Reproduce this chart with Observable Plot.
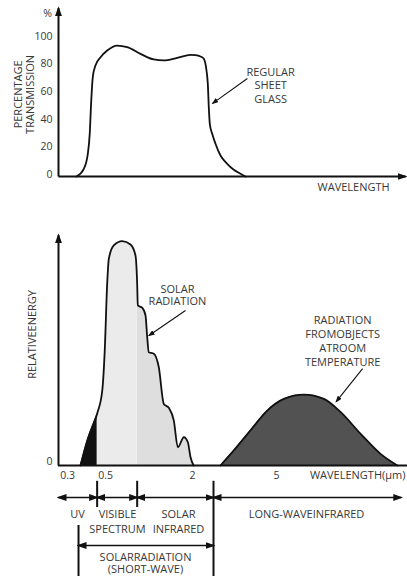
<!DOCTYPE html>
<html><head><meta charset="utf-8">
<script src="https://cdn.jsdelivr.net/npm/d3@7"></script>
<script src="https://cdn.jsdelivr.net/npm/@observablehq/plot@0.6"></script>
<style>
body{margin:0;background:#fff;}
#chart{width:407px;height:576px;overflow:hidden;background:#fff;}
#chart svg{display:block;overflow:visible;}
</style></head><body><div id="chart"></div>
<script>
// ---- Top chart: regular sheet glass transmission ----
const glassWavelength = [0.347, 0.386, 0.407, 0.417, 0.425, 0.433, 0.447, 0.474, 0.529, 0.702, 0.874, 1.103, 1.333, 1.505, 1.736, 1.966, 2.107, 2.286, 2.404, 2.5, 2.547, 2.582, 2.618, 2.704, 2.821, 3.0, 3.239, 3.475, 3.714, 3.893];
const glassTransmission = [0, 5.6, 16.4, 30.9, 55, 72, 80.4, 86.4, 91.3, 94.9, 93.7, 88.9, 84.8, 84.1, 86, 88.2, 88, 87, 85.3, 76.8, 67.1, 50.2, 38.2, 30.9, 23.7, 15.2, 9.2, 4.9, 2, 0];
const transmissionTicks = [0, 20, 40, 60, 80, 100];

// ---- Bottom chart: solar radiation and room-temperature radiation ----
const solarWavelength = [0.368, 0.404, 0.456, 0.483, 0.496, 0.529, 0.557, 0.643, 0.788, 0.931, 1.017, 1.046, 1.057, 1.132, 1.19, 1.219, 1.246, 1.333, 1.419, 1.505, 1.591, 1.678, 1.747, 1.851, 1.92, 1.966, 2.04];
const solarEnergy = [0, 11, 22.7, 32.9, 50.4, 79.7, 90.6, 96.5, 98.4, 96.9, 92.1, 79.7, 70.2, 69.2, 65.8, 56.3, 49.7, 49, 43.1, 27, 25.3, 19.7, 8, 12.4, 10.2, 3.6, 0];
const roomWavelength = [3.0, 3.476, 4.07, 4.67, 5.26, 5.98, 6.69, 7.29, 8.0, 8.71, 9.31];
const roomEnergy = [0, 6.6, 15.4, 24.1, 29.2, 31.1, 29.2, 23.4, 13.9, 5.1, 0];
const wavelengthTicks = [0.3, 0.5, 2, 5];

// ---- Spectral bands (μm) ----
const bandNames = ["UV", "VISIBLE\nSPECTRUM", "SOLAR\nINFRARED", "LONG-WAVEINFRARED"];
const bandStart = [0.25, 0.456, 1.046, 2.75];
const bandEnd = [0.456, 1.046, 2.75, 9.45];
const bandLabelAt = [0.353, 0.707, 1.759, 6.07];
const shortWaveName = ["SOLARRADIATION\n(SHORT-WAVE)"];
const shortWaveStart = [0.358];
const shortWaveEnd = [2.75];
const shortWaveLabelAt = [1.19];

// ---- shared settings ----
const origin = 0.25;
const xEnd = 9.6;
const xScale = {type: "linear", domain: [0.25, 0.3, 0.5, 2, 5, 9.6], range: [58, 67, 105, 192, 276, 405], axis: null};
const font = "'Open Sans', 'DejaVu Sans', sans-serif";
const ink = "#111";
const textInk = "#383838";
const style = {fontFamily: font, fontSize: "11px", color: textInk, background: "transparent", overflow: "visible"};

const glass = glassWavelength.map((x, i) => ({x, y: glassTransmission[i]}));
const solar = solarWavelength.map((x, i) => ({x, y: solarEnergy[i]}));
const room = roomWavelength.map((x, i) => ({x, y: roomEnergy[i]}));
const uvPart = solar.filter(d => d.x <= bandEnd[0]);
const visPart = solar.filter(d => d.x >= bandStart[1] && d.x <= bandEnd[1]);
const irPart = solar.filter(d => d.x >= bandStart[2]);

function addMarkers(svg, id, plan) {
  const s = d3.select(svg);
  const defs = s.insert("defs", ":first-child");
  const mk = (name, w, h) => defs.append("marker")
    .attr("id", id + name).attr("viewBox", "0 0 10 10").attr("refX", 8).attr("refY", 5)
    .attr("markerWidth", w).attr("markerHeight", h).attr("markerUnits", "userSpaceOnUse")
    .attr("orient", "auto-start-reverse").attr("preserveAspectRatio", "none")
    .append("path").attr("d", "M0,0L10,5L0,10Z").attr("fill", ink);
  mk("big", 10, 7);
  mk("small", 7, 5);
  s.selectAll('g[aria-label="link"]').each(function(_, i) {
    const p = plan[i] || {};
    const paths = d3.select(this).selectAll("path");
    if (p.end) paths.attr("marker-end", `url(#${id}${p.end})`);
    if (p.start) paths.attr("marker-start", `url(#${id}${p.start})`);
  });
}

// ================= TOP PLOT =================
const topPlot = Plot.plot({
  width: 407, height: 200,
  marginLeft: 58, marginRight: 2, marginTop: 38, marginBottom: 24,
  x: xScale,
  y: {domain: [0, 100], axis: null},
  style,
  marks: [
    Plot.line(glass, {x: "x", y: "y", curve: "monotone-x", stroke: ink, strokeWidth: 1.8}),
    Plot.link([{x1: origin, y1: 0, x2: origin, y2: 122}, {x1: origin, y1: 0, x2: xEnd, y2: 0}],
      {x1: "x1", y1: "y1", x2: "x2", y2: "y2", stroke: ink, strokeWidth: 2}),
    Plot.link([{x1: 3.96, y1: 71, x2: 2.72, y2: 53}],
      {x1: "x1", y1: "y1", x2: "x2", y2: "y2", stroke: ink, strokeWidth: 1.1}),
    Plot.text(transmissionTicks, {x: origin, y: d => d, text: d => String(d), textAnchor: "end", dx: -6, dy: -2, fontSize: 10.5, fill: textInk}),
    Plot.text(["%"], {x: origin, y: 118, text: d => d, dx: -11, fontSize: 10.5, fill: textInk}),
    Plot.text(["PERCENTAGE\nTRANSMISSION"], {frameAnchor: "left", y: 59.5, text: d => d, dx: -34, rotate: -90, textAnchor: "middle", lineAnchor: "middle", lineHeight: 1.1, fontSize: 11, fill: textInk}),
    Plot.text(["REGULAR\nSHEET\nGLASS"], {x: 4.79, y: 79.5, text: d => d, lineAnchor: "top", lineHeight: 1.2, fontSize: 11, fill: textInk}),
    Plot.text(["WAVELENGTH"], {x: 7.75, y: 0, text: d => d, dy: 11, fontSize: 11, fill: textInk})
  ]
});
addMarkers(topPlot, "t", [{end: "big"}, {end: "small"}]);

// ================= BOTTOM PLOT =================
const bottomPlot = Plot.plot({
  width: 407, height: 280,
  marginLeft: 58, marginRight: 2, marginTop: 37, marginBottom: 15,
  x: xScale,
  y: {domain: [0, 100], axis: null},
  style,
  marks: [
    Plot.areaY(irPart, {x: "x", y: "y", curve: "monotone-x", fill: "#dedede"}),
    Plot.areaY(visPart, {x: "x", y: "y", curve: "monotone-x", fill: "#ebebeb"}),
    Plot.areaY(uvPart, {x: "x", y: "y", curve: "monotone-x", fill: "#111"}),
    Plot.areaY(room, {x: "x", y: "y", curve: "monotone-x", fill: "#525252"}),
    Plot.line(solar, {x: "x", y: "y", curve: "monotone-x", stroke: ink, strokeWidth: 1.8}),
    Plot.line(room, {x: "x", y: "y", curve: "monotone-x", stroke: ink, strokeWidth: 1.8}),
    Plot.ruleY([0], {x1: origin, x2: 9.7, stroke: ink, strokeWidth: 2}),
    Plot.link([{x1: origin, y1: 0, x2: origin, y2: 101}],
      {x1: "x1", y1: "y1", x2: "x2", y2: "y2", stroke: ink, strokeWidth: 2}),
    Plot.link([{x1: 1.879, y1: 68, x2: 1.25, y2: 57}, {x1: 8.07, y1: 42.5, x2: 7.13, y2: 28}],
      {x1: "x1", y1: "y1", x2: "x2", y2: "y2", stroke: ink, strokeWidth: 1.1}),
    Plot.text([0], {x: origin, y: 0, text: d => String(d), textAnchor: "end", dx: -6, dy: -4, fontSize: 10.5, fill: textInk}),
    Plot.text(wavelengthTicks, {x: d => d, y: 0, text: d => String(d), dy: 10, fontSize: 10.5, fill: textInk}),
    Plot.text(["WAVELENGTH(μm)"], {x: xEnd, y: 0, text: d => d, textAnchor: "end", dy: 10, fontSize: 11, fill: textInk}),
    Plot.text(["RELATIVEENERGY"], {frameAnchor: "left", y: 57.5, text: d => d, dx: -26, rotate: -90, textAnchor: "middle", lineAnchor: "middle", fontSize: 11, fill: textInk}),
    Plot.text(["SOLAR\nRADIATION"], {x: 1.741, y: 79.6, text: d => d, lineAnchor: "top", lineHeight: 1.12, fontSize: 11, fill: textInk}),
    Plot.text(["RADIATION\nFROMOBJECTS\nATROOM\nTEMPERATURE"], {x: 7.36, y: 66.2, text: d => d, lineAnchor: "top", lineHeight: 1.27, fontSize: 11, fill: textInk})
  ]
});
addMarkers(bottomPlot, "b", [{end: "big"}, {end: "small"}]);

// ================= BAND ANNOTATIONS =================
const bands = bandNames.map((name, i) => ({name, x1: bandStart[i], x2: bandEnd[i], at: bandLabelAt[i]}));
const shortWave = shortWaveName.map((name, i) => ({name, x1: shortWaveStart[i], x2: shortWaveEnd[i], at: shortWaveLabelAt[i]}));
// row levels of the annotation strip (top = 0)
const rowTop = 0.1, rowSpan1 = 2.125, rowBarEnd = 3.375, rowLabel1 = 3.45, rowSubTop = 5.625, rowSpan2 = 8.125, rowLabel2 = 9.0, rowBottom = 12;

const annoPlot = Plot.plot({
  width: 407, height: 96,
  marginLeft: 58, marginRight: 2, marginTop: 0, marginBottom: 0,
  x: xScale,
  y: {domain: [0, 12], reverse: true, axis: null},
  style,
  marks: [
    Plot.ruleX([bandStart[1], bandStart[2]], {x: d => d, y1: rowTop, y2: rowBarEnd, stroke: ink, strokeWidth: 2}),
    Plot.ruleX([bandStart[3]], {x: d => d, y1: rowTop, y2: rowBottom, stroke: ink, strokeWidth: 2}),
    Plot.ruleX(shortWaveStart, {x: d => d, y1: rowSubTop, y2: rowBottom, stroke: ink, strokeWidth: 2}),
    Plot.link(bands, {x1: "x1", x2: "x2", y1: rowSpan1, y2: rowSpan1, stroke: ink, strokeWidth: 1.6}),
    Plot.link(shortWave, {x1: "x1", x2: "x2", y1: rowSpan2, y2: rowSpan2, stroke: ink, strokeWidth: 1.6}),
    Plot.text(bands, {x: "at", y: rowLabel1, text: "name", lineAnchor: "top", lineHeight: 1.3, fontSize: 11, fill: textInk}),
    Plot.text(shortWave, {x: "at", y: rowLabel2, text: "name", lineAnchor: "top", lineHeight: 1.1, fontSize: 11, fill: textInk})
  ]
});
addMarkers(annoPlot, "a", [{start: "big", end: "big"}, {start: "big", end: "big"}]);

const chart = document.getElementById("chart");
chart.appendChild(topPlot);
chart.appendChild(bottomPlot);
chart.appendChild(annoPlot);
</script>
</body></html>
